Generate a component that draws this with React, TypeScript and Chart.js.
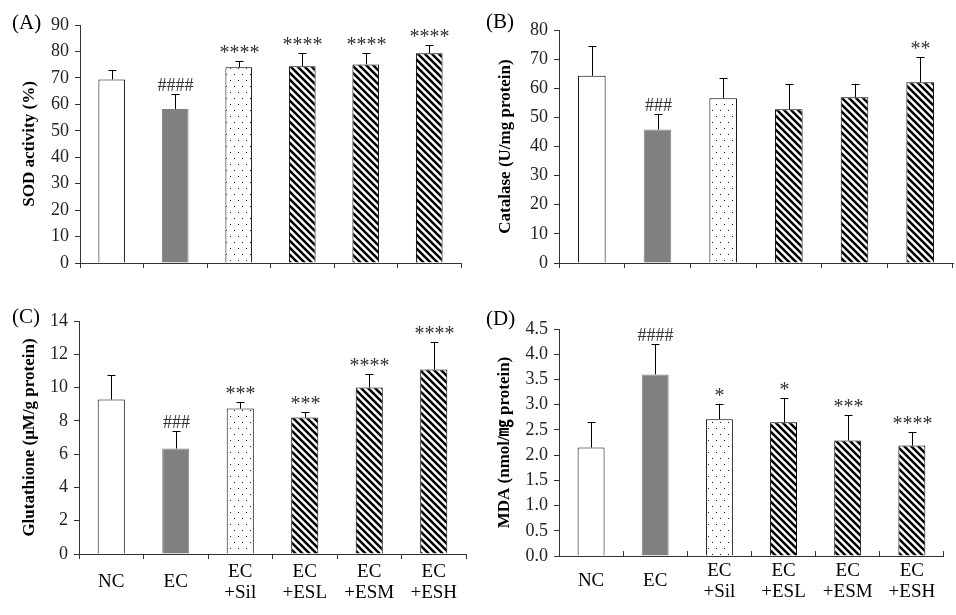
import React, { useEffect, useRef } from "react";
import { Chart, registerables } from "chart.js";

Chart.register(...registerables);

// ---------- data ----------
const categories: (string | string[])[] = ["NC", "EC", ["EC", "+Sil"], ["EC", "+ESL"], ["EC", "+ESM"], ["EC", "+ESH"]];

const sodMean = [69.4, 58.2, 74.0, 74.4, 75.1, 79.3];
const sodSD = [3.4, 5.8, 2.3, 4.9, 4.2, 3.0];
const sodMarks = ["", "####", "****", "****", "****", "****"];
const sodTicks = { max: 90, step: 10, decimals: 0 };

const catMean = [64.3, 45.8, 56.6, 52.8, 56.9, 62.1];
const catSD = [10.1, 5.3, 6.8, 8.6, 4.5, 8.5];
const catMarks = ["", "###", "", "", "", "**"];
const catTicks = { max: 80, step: 10, decimals: 0 };

const gshMean = [9.28, 6.34, 8.74, 8.2, 10.0, 11.08];
const gshSD = [1.5, 1.08, 0.42, 0.36, 0.84, 1.68];
const gshMarks = ["", "###", "***", "***", "****", "****"];
const gshTicks = { max: 14, step: 2, decimals: 0 };

const mdaMean = [2.15, 3.6, 2.71, 2.65, 2.29, 2.19];
const mdaSD = [0.51, 0.6, 0.31, 0.48, 0.5, 0.26];
const mdaMarks = ["", "####", "*", "*", "***", "****"];
const mdaTicks = { max: 4.5, step: 0.5, decimals: 1 };

const SERIF = "'Liberation Serif', 'Times New Roman', 'Noto Sans CJK KR', serif";

type Box = { l: number; t: number; w: number; h: number };
type Plot = { l: number; r: number; t: number; b: number };
type PanelDef = {
  letter: string;
  yTitle: string;
  mean: number[];
  sd: number[];
  marks: string[];
  ticks: { max: number; step: number; decimals: number };
  box: Box;
  plot: Plot;
  titlePad: number;
  letterPos: { x: number; y: number };
  showX: boolean;
  tickUp: boolean;
};

const panels: PanelDef[] = [
  {
    letter: "(A)", yTitle: "SOD activity (%)", mean: sodMean, sd: sodSD, marks: sodMarks, ticks: sodTicks,
    box: { l: 0, t: 0, w: 478, h: 300 }, plot: { l: 80, r: 461, t: 25, b: 263 },
    titlePad: 19, letterPos: { x: 12, y: 23 }, showX: false, tickUp: false,
  },
  {
    letter: "(B)", yTitle: "Catalase (U/mg protein)", mean: catMean, sd: catSD, marks: catMarks, ticks: catTicks,
    box: { l: 478, t: 0, w: 478, h: 300 }, plot: { l: 81, r: 475, t: 30, b: 263 },
    titlePad: 17, letterPos: { x: 8, y: 22 }, showX: false, tickUp: false,
  },
  {
    letter: "(C)", yTitle: "Glutathione (μM/g protein)", mean: gshMean, sd: gshSD, marks: gshMarks, ticks: gshTicks,
    box: { l: 0, t: 300, w: 478, h: 315 }, plot: { l: 79, r: 466, t: 21, b: 254 },
    titlePad: 19, letterPos: { x: 12, y: 17 }, showX: true, tickUp: false,
  },
  {
    letter: "(D)", yTitle: "MDA (nmol/㎎ protein)", mean: mdaMean, sd: mdaSD, marks: mdaMarks, ticks: mdaTicks,
    box: { l: 478, t: 300, w: 478, h: 315 }, plot: { l: 81, r: 468, t: 29, b: 256 },
    titlePad: 16, letterPos: { x: 8, y: 19 }, showX: true, tickUp: true,
  },
];

function makeDots(): CanvasPattern | string {
  const c = document.createElement("canvas");
  c.width = 8;
  c.height = 12;
  const g = c.getContext("2d");
  if (!g) return "#fff";
  g.fillStyle = "#ffffff";
  g.fillRect(0, 0, 8, 12);
  g.fillStyle = "#111";
  g.fillRect(2, 2, 1, 1);
  g.fillRect(6, 8, 1, 1);
  return g.createPattern(c, "repeat") || "#fff";
}

function makeHatch(): CanvasPattern | string {
  const s = 7;
  const c = document.createElement("canvas");
  c.width = s;
  c.height = s;
  const g = c.getContext("2d");
  if (!g) return "#fff";
  g.fillStyle = "#ffffff";
  g.fillRect(0, 0, s, s);
  g.strokeStyle = "#000";
  g.lineWidth = 2.5;
  g.beginPath();
  g.moveTo(-1, -1);
  g.lineTo(s + 1, s + 1);
  g.moveTo(-1, s - 1);
  g.lineTo(1, s + 1);
  g.moveTo(s - 1, -1);
  g.lineTo(s + 1, 1);
  g.stroke();
  return g.createPattern(c, "repeat") || "#fff";
}

function PanelChart({ def }: { def: PanelDef }) {
  const ref = useRef<HTMLCanvasElement | null>(null);
  useEffect(() => {
    const canvas = ref.current;
    if (!canvas) return;
    const dots = makeDots();
    const hatch = makeHatch();
    const fills = ["#ffffff", "#808080", dots, hatch, hatch, hatch];
    const borders = ["#000", "#808080", "#000", "#000", "#000", "#000"];
    const { box, plot } = def;

    const overlay = {
      id: "overlay",
      afterDatasetsDraw(chart: any) {
        const ctx = chart.ctx;
        const meta = chart.getDatasetMeta(0);
        const y = chart.scales.y;
        ctx.save();
        meta.data.forEach((bar: any, i: number) => {
          const x = Math.round(bar.x) + 0.5;
          const y0 = y.getPixelForValue(def.mean[i]);
          const y1 = Math.round(y.getPixelForValue(def.mean[i] + def.sd[i])) + 0.5;
          ctx.strokeStyle = "#000";
          ctx.lineWidth = 1;
          ctx.beginPath();
          ctx.moveTo(x, y0);
          ctx.lineTo(x, y1);
          ctx.moveTo(x - 4, y1);
          ctx.lineTo(x + 4, y1);
          ctx.stroke();
          const m = def.marks[i];
          if (m) {
            const isHash = m[0] === "#";
            ctx.fillStyle = "#333";
            ctx.font = (isHash ? "18px " : "20px ") + SERIF;
            ctx.textAlign = "center";
            ctx.textBaseline = "alphabetic";
            ctx.fillText(m, x, isHash ? y1 - 4 : y1 - 3);
          }
        });
        ctx.restore();
      },
      afterDraw(chart: any) {
        const ctx = chart.ctx;
        ctx.save();
        ctx.fillStyle = "#000";
        ctx.font = "21px " + SERIF;
        ctx.textAlign = "left";
        ctx.textBaseline = "middle";
        ctx.fillText(def.letter, def.letterPos.x, def.letterPos.y);
        ctx.restore();
      },
    };

    const chart = new Chart(canvas, {
      type: "bar",
      data: {
        labels: categories as any,
        datasets: [
          {
            data: def.mean,
            backgroundColor: fills as any,
            borderColor: borders,
            borderWidth: 1,
            barPercentage: 0.42,
            categoryPercentage: 1,
          },
        ],
      },
      options: {
        animation: false,
        responsive: false,
        maintainAspectRatio: false,
        devicePixelRatio: 1,
        layout: { padding: { left: 0, top: plot.t, right: box.w - plot.r, bottom: 0 } },
        plugins: { legend: { display: false }, tooltip: { enabled: false }, title: { display: false } },
        scales: {
          x: {
            offset: true,
            afterFit: (s: any) => {
              s.height = box.h - plot.b;
            },
            grid: {
              offset: true,
              drawOnChartArea: false,
              drawTicks: true,
              tickLength: def.tickUp ? -5 : 5,
              color: "#333",
            },
            border: { display: true, color: "#333", width: 1 },
            ticks: {
              display: def.showX,
              autoSkip: false,
              maxRotation: 0,
              minRotation: 0,
              crossAlign: "center",
              padding: def.tickUp ? 20 : 13,
              color: "#000",
              font: { family: SERIF, size: 19, lineHeight: 1.08 },
            },
          },
          y: {
            min: 0,
            max: def.ticks.max,
            afterFit: (s: any) => {
              s.width = plot.l;
            },
            grid: { drawOnChartArea: false, drawTicks: true, tickLength: 5, color: "#333" },
            border: { display: true, color: "#333", width: 1 },
            ticks: {
              stepSize: def.ticks.step,
              padding: 6,
              color: "#222",
              font: { family: SERIF, size: 18 },
              callback: (v: any) => Number(v).toFixed(def.ticks.decimals),
            },
            title: {
              display: true,
              text: def.yTitle,
              color: "#000",
              font: { family: SERIF, size: 17, weight: "bold" },
              padding: { top: def.titlePad, bottom: 0 },
            },
          },
        },
      } as any,
      plugins: [overlay],
    });
    return () => chart.destroy();
  }, [def]);

  return (
    <canvas
      ref={ref}
      width={def.box.w}
      height={def.box.h}
      style={{ position: "absolute", left: def.box.l, top: def.box.t, width: def.box.w, height: def.box.h }}
    />
  );
}

export default function App() {
  return (
    <div style={{ position: "absolute", left: 0, top: 0, width: 956, height: 615, background: "#fff" }}>
      {panels.map((p) => (
        <PanelChart key={p.letter} def={p} />
      ))}
    </div>
  );
}
